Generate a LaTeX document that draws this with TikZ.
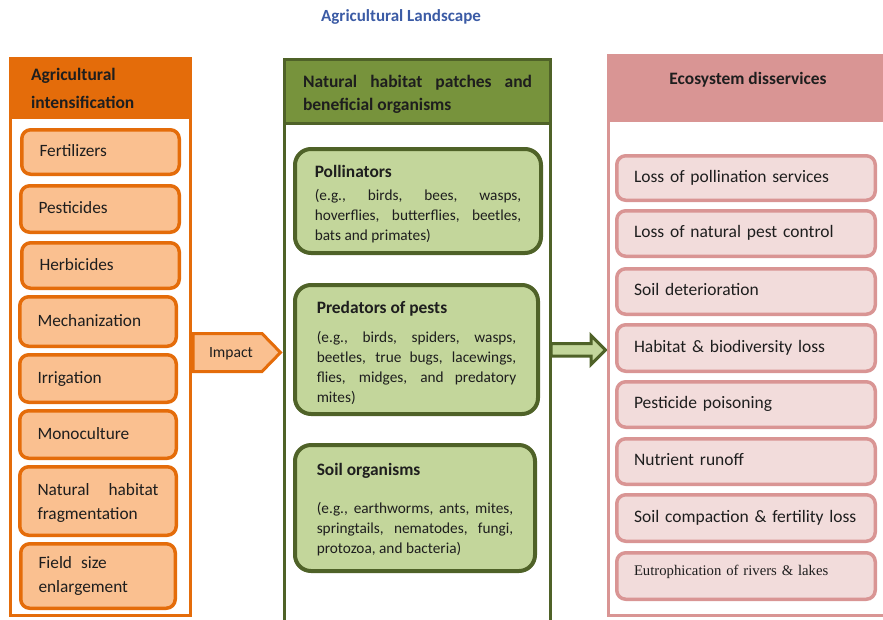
\documentclass[tikz,border=0pt]{standalone}
\usepackage{fontspec}
\setmainfont{Carlito}
\newfontfamily\serifrm{Liberation Serif}
\definecolor{orD}{HTML}{E46C0A}
\definecolor{orL}{HTML}{FAC090}
\definecolor{grD}{HTML}{4F6228}
\definecolor{grM}{HTML}{77933C}
\definecolor{grL}{HTML}{C3D69B}
\definecolor{pkD}{HTML}{D99594}
\definecolor{pkL}{HTML}{F2DCDB}
\definecolor{ttl}{HTML}{3B5BA5}
\definecolor{txt}{HTML}{1E1E1E}
\hyphenpenalty=10000
\exhyphenpenalty=10000
\begin{document}
\begin{tikzpicture}[x=1pt,y=-1pt,text=txt,
  every node/.style={outer sep=0pt},
  lbox/.style={draw=orD, fill=orL, line width=3.5pt, rounded corners=9pt, inner xsep=17.75pt, inner ysep=0pt, align=left, font=\fontsize{17.3}{23.5}\selectfont},
  rbox/.style={draw=pkD, fill=pkL, line width=3.5pt, rounded corners=9pt, inner xsep=17.25pt, inner ysep=0pt, text width=224pt, minimum width=258.5pt, align=left, font=\fontsize{17.5}{21}\selectfont},
  gbox/.style={draw=grD, fill=grL, line width=4pt, rounded corners=16pt, inner ysep=0pt, align=justify, font=\fontsize{15.3}{20}\selectfont}]
\useasboundingbox (0,0) rectangle (883,619);
\clip (0,0) rectangle (883,619);

% title
\node[font=\fontsize{17}{20}\selectfont\bfseries, text=ttl] (title) at (401,17) {Agricultural Landscape};

% ---------- left panel ----------
\node[fill=orD, minimum width=183pt, minimum height=62pt, text width=139pt, inner xsep=22pt, inner ysep=0pt, align=left, font=\fontsize{17.5}{28}\selectfont\bfseries] (lhead) at (100.5,88) {Agricultural\\intensification};
\node[draw=orD, line width=3pt, minimum width=180pt, minimum height=557pt, inner sep=0pt] (lpanel) at (100.5,337) {};

\node[lbox, minimum width=157.5pt, text width=122pt, minimum height=44.5pt] (l1) at (100.5,152) {\strut Fertilizers};
\node[lbox, minimum width=158.5pt, text width=123pt, minimum height=46.5pt] (l2) at (100,209) {\strut Pesticides};
\node[lbox, minimum width=157.5pt, text width=122pt, minimum height=45.5pt] (l3) at (100.5,265.5) {\strut Herbicides};
\node[lbox, minimum width=156.5pt, text width=121pt, minimum height=49.5pt] (l4) at (98,321.5) {\strut Mechanization};
\node[lbox, minimum width=156.5pt, text width=121pt, minimum height=47.5pt] (l5) at (98,378.5) {\strut Irrigation};
\node[lbox, minimum width=156.5pt, text width=121pt, minimum height=47.5pt] (l6) at (98,434.5) {\strut Monoculture};
\node[lbox, align=justify, minimum width=156.5pt, text width=121pt, minimum height=68.5pt] (l7) at (98,501) {\rule{0pt}{16pt}Natural habitat\linebreak fragmentation};
\node[lbox, minimum width=154.5pt, text width=119pt, minimum height=64.5pt] (l8) at (98,576) {Field\hspace{9pt}size\\enlargement};

% impact arrow
\draw[fill=orL, draw=orD, line width=3pt] (193,333.5) -- (262,333.5) -- (280.5,352.5) -- (262,371.5) -- (193,371.5) -- cycle;
\node[font=\fontsize{15.6}{18}\selectfont] (impact) at (231,354) {Impact};

% ---------- middle panel ----------
\node[draw=grD, fill=grM, line width=3pt, minimum width=266pt, minimum height=64pt, text width=229pt, inner xsep=18.5pt, inner ysep=0pt, align=justify, font=\fontsize{17.5}{23}\selectfont\bfseries] (mhead) at (417.5,91.5) {\rule{0pt}{18.5pt}Natural habitat patches and\linebreak beneficial organisms};
\draw[grD, line width=3pt] (mhead.south west) -- ++(0,520);
\draw[grD, line width=3pt] (mhead.south east) -- ++(0,520);

\node[gbox, inner xsep=19.75pt, text width=206.5pt, minimum height=104pt] (poll) at (418,201)
  {{\fontsize{17.4}{20}\selectfont\bfseries\rule{0pt}{18pt}Pollinators}\\[3pt](e.g., birds, bees, wasps,\linebreak hoverflies, butterflies, beetles,\linebreak bats and primates)};
\node[gbox, inner xsep=21.75pt, text width=199.5pt, minimum height=129pt] (pred) at (416.5,349.5)
  {{\fontsize{17.4}{20}\selectfont\bfseries\rule{0pt}{20pt}Predators of pests}\\[9pt](e.g., birds, spiders, wasps,\linebreak beetles, true bugs, lacewings,\linebreak flies, midges, and predatory\linebreak mites)};
\node[gbox, inner xsep=21.75pt, text width=196.5pt, minimum height=126pt] (soil) at (415,508)
  {{\fontsize{17.4}{20}\selectfont\bfseries\rule{0pt}{16pt}Soil organisms}\\[18pt](e.g., earthworms, ants, mites,\linebreak springtails, nematodes, fungi,\linebreak protozoa, and bacteria)};

% green block arrow
\draw[fill=grL, draw=grD, line width=3pt] (551,343.5) -- (591,343.5) -- (591,335.5) -- (605.5,350) -- (591,364.5) -- (591,356) -- (551,356) -- cycle;

% ---------- right panel ----------
\node[fill=pkD, minimum width=293pt, minimum height=68pt, inner sep=0pt] (rhead) at (753.5,88) {};
\node[draw=pkD, line width=3pt, minimum width=291.5pt, minimum height=560pt, inner sep=0pt] (rpanel) at (754.25,335.5) {};
\node[font=\fontsize{17.4}{20}\selectfont\bfseries] (rtitle) at (748,80) {Ecosystem disservices};

\node[rbox, minimum height=44.5pt] (r1) at (746,178) {\strut Loss of pollination services};
\node[rbox, minimum height=45.5pt] (r2) at (746,233.5) {\strut Loss of natural pest control};
\node[rbox, minimum height=45.5pt] (r3) at (746,291.5) {\strut Soil deterioration};
\node[rbox, minimum height=46.5pt] (r4) at (746,348) {\strut Habitat \& biodiversity loss};
\node[rbox, minimum height=45.5pt] (r5) at (746,404.5) {\strut Pesticide poisoning};
\node[rbox, minimum height=45.5pt] (r6) at (746,461.5) {\strut Nutrient runoff};
\node[rbox, minimum height=46.5pt] (r7) at (746,518) {\strut Soil compaction \& fertility loss};
\node[rbox, minimum height=46.5pt, font=\serifrm\fontsize{14.7}{18}\selectfont] (r8) at (746,576) {\rule[-12pt]{0pt}{12pt}Eutrophication of rivers \& lakes};
\end{tikzpicture}
\end{document}
